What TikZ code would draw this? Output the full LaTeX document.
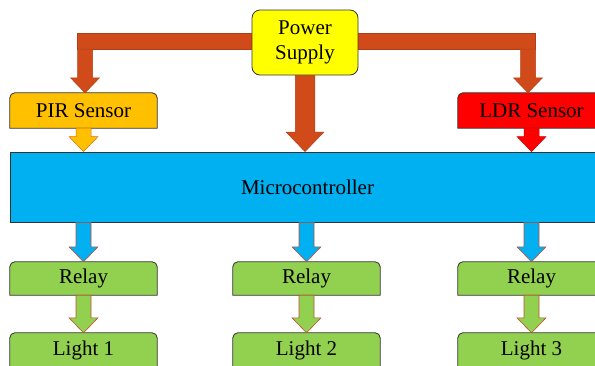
\documentclass[tikz,border=0pt]{standalone}
\usepackage{fontspec}
\setmainfont{Liberation Serif}
\newfontfamily\fonteserifa{Liberation Serif}
\usepackage{xcolor}
\usetikzlibrary{calc, backgrounds}
\definecolor{meularanja}{RGB}{208, 74, 26}
\definecolor{meuamarelo}{RGB}{255, 255, 0}
\definecolor{meuouro}{RGB}{255, 192, 0}
\definecolor{meuvermelho}{RGB}{255, 0, 0}
\definecolor{meuazul}{RGB}{0, 176, 240}
\definecolor{meuverde}{RGB}{146, 208, 80}
\definecolor{meucontorno}{RGB}{192, 80, 60}

% caixa com cantos de cima arredondados
\newcommand{\caixatopo}[2]{%
  \draw[linhacaixa, fill=#2] (#1.south west) -- ([yshift=-5pt]#1.north west)
    arc[start angle=180, end angle=90, radius=5pt] -- ([xshift=-5pt]#1.north east)
    arc[start angle=90, end angle=0, radius=5pt] -- (#1.south east) -- cycle;}

% seta em bloco: estilo, inicio, ponta, escala
\newcommand{\setabloco}[4]{%
  \draw[#1] let \p1=(#2), \p2=(#3) in
    (\x1-7.5pt*#4,\y1) -- (\x1-7.5pt*#4,\y2+15pt*#4) -- (\x1-14.5pt*#4,\y2+15pt*#4)
    -- (\x1,\y2) -- (\x1+14.5pt*#4,\y2+15pt*#4) -- (\x1+7.5pt*#4,\y2+15pt*#4)
    -- (\x1+7.5pt*#4,\y1) -- cycle;}

\begin{document}
\begin{tikzpicture}[
                x=1pt, y=-1pt,
                font=\fonteserifa\fontsize{21}{25}\selectfont,
                linhacaixa/.style={draw=black!80, line width=0.8pt},
                caixa/.style={minimum width=147pt, minimum height=35pt, inner sep=0pt},
                fonte/.style={linhacaixa, fill=meuamarelo, rounded corners=8pt, minimum width=106pt, minimum height=65pt, align=center, inner sep=0pt},
                micro/.style={linhacaixa, fill=meuazul, minimum width=595pt, minimum height=70pt, inner sep=0pt},
                energia/.style={fill=meularanja, draw=meularanja!85!black, line width=0.5pt},
                setapir/.style={fill=meuouro, draw=meularanja!70!meuouro, line width=0.5pt},
                setaldr/.style={fill=meuvermelho, draw=meuvermelho!80!black, line width=0.5pt},
                setaazul/.style={fill=meuazul, draw=meucontorno, line width=0.6pt},
                setaverde/.style={fill=meuverde, draw=meucontorno, line width=0.6pt}
            ]
                \useasboundingbox (0,0) rectangle (595,365);
                \clip (0,0) rectangle (595,365);

                \node[fonte] (ps) at (305,42.5) {Power\\Supply};
                \node[caixa] (pir) at (83.5,110.5) {PIR Sensor};
                \node[caixa] (ldr) at (531.5,110.5) {LDR Sensor};
                \node[micro] (mcu) at (307.5,187) {Microcontroller};
                \node[caixa, minimum height=33pt] (rel1) at (83.5,278.5) {Relay};
                \node[caixa, minimum height=33pt] (rel2) at (306.5,278.5) {Relay};
                \node[caixa, minimum height=33pt] (rel3) at (531.5,278.5) {Relay};
                \node[caixa] (luz1) at (83.5,350.5) {Light 1};
                \node[caixa] (luz2) at (306.5,350.5) {Light 2};
                \node[caixa] (luz3) at (531.5,350.5) {Light 3};

                \begin{scope}[on background layer]
                    \caixatopo{pir}{meuouro}
                    \caixatopo{ldr}{meuvermelho}
                    \caixatopo{rel1}{meuverde}
                    \caixatopo{rel2}{meuverde}
                    \caixatopo{rel3}{meuverde}
                    \caixatopo{luz1}{meuverde}
                    \caixatopo{luz2}{meuverde}
                    \caixatopo{luz3}{meuverde}
                \end{scope}

                % alimentacao
                \coordinate (esq) at (85,41);
                \coordinate (dir) at (528,41);
                \draw[energia] ($(esq)+(-7.5,-8)$) rectangle ($(esq -| ps.west)+(0,8)$);
                \draw[energia] ($(dir)+(7.5,-8)$) rectangle ($(dir -| ps.east)+(0,8)$);
                \setabloco{energia}{$(esq)+(0,8)$}{pir.north}{1}
                \setabloco{energia}{$(dir)+(0,8)$}{ldr.north}{1}
                \setabloco{energia}{ps.south}{mcu.north}{1.3}

                % sensores
                \setabloco{setapir}{pir.south}{pir.south |- mcu.north}{1}
                \setabloco{setaldr}{ldr.south}{ldr.south |- mcu.north}{1}

                % saidas
                \setabloco{setaazul}{rel1.north |- mcu.south}{rel1.north}{1}
                \setabloco{setaazul}{rel2.north |- mcu.south}{rel2.north}{1}
                \setabloco{setaazul}{rel3.north |- mcu.south}{rel3.north}{1}
                \setabloco{setaverde}{rel1.south}{luz1.north}{1}
                \setabloco{setaverde}{rel2.south}{luz2.north}{1}
                \setabloco{setaverde}{rel3.south}{luz3.north}{1}
            \end{tikzpicture}
\end{document}
